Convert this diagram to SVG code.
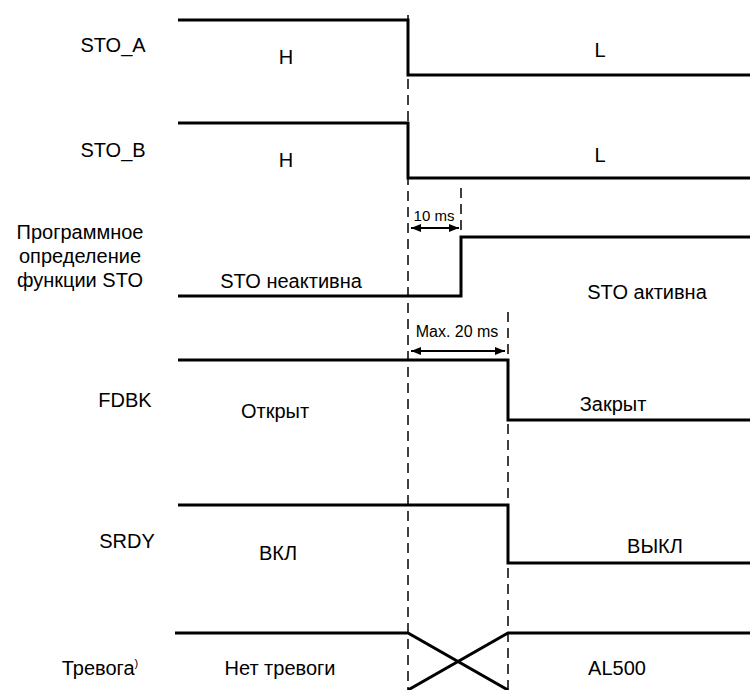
<svg xmlns="http://www.w3.org/2000/svg" width="750" height="690" viewBox="0 0 750 690">
<defs>
<marker id="ah" viewBox="0 0 10 8" refX="10" refY="4" markerWidth="11" markerHeight="8" orient="auto-start-reverse" markerUnits="userSpaceOnUse">
<path d="M0,0 L10,4 L0,8 Z" fill="#000"/>
</marker>
<style>
text{font-family:"Liberation Sans",Arial,sans-serif;font-size:20px;fill:#000}
.s{font-size:15px}
.m{font-size:16px}
.sig{fill:none;stroke:#000;stroke-width:3}
.d{fill:none;stroke:#000;stroke-width:1.5;stroke-dasharray:10,6}
.a{stroke:#000;stroke-width:2;fill:none}
</style>
</defs>
<rect width="750" height="690" fill="#fff"/>
<g id="connectors">
<line class="d" x1="408" y1="15" x2="408" y2="690"/>
<line class="d" x1="461" y1="188" x2="461" y2="237"/>
<line class="d" x1="508" y1="312" x2="508" y2="690"/>
<line class="a" x1="411" y1="228" x2="459" y2="228" marker-start="url(#ah)" marker-end="url(#ah)"/>
<line class="a" x1="411" y1="351" x2="505" y2="351" marker-start="url(#ah)" marker-end="url(#ah)"/>
</g>
<g id="sto_a">
<polyline class="sig" points="178,20 408,20 408,75 750,75"/>
<text x="113" y="52" text-anchor="middle">STO_A</text>
<text x="286" y="64" text-anchor="middle">H</text>
<text x="600" y="57" text-anchor="middle">L</text>
</g>
<g id="sto_b">
<polyline class="sig" points="178,123 408,123 408,178 750,178"/>
<text x="113" y="157" text-anchor="middle">STO_B</text>
<text x="286" y="167" text-anchor="middle">H</text>
<text x="600" y="162" text-anchor="middle">L</text>
</g>
<g id="sto_sw">
<polyline class="sig" points="178,296 461,296 461,237 750,237"/>
<text x="80" y="239" text-anchor="middle">Программное</text>
<text x="80" y="263" text-anchor="middle">определение</text>
<text x="80" y="287" text-anchor="middle">функции STO</text>
<text x="291" y="288" text-anchor="middle">STO неактивна</text>
<text x="647" y="299" text-anchor="middle">STO активна</text>
<text class="s" x="434" y="221" text-anchor="middle">10 ms</text>
<text class="m" x="457" y="337" text-anchor="middle">Max. 20 ms</text>
</g>
<g id="fdbk">
<polyline class="sig" points="178,360 508,360 508,420 750,420"/>
<text x="125" y="407" text-anchor="middle">FDBK</text>
<text x="275" y="418" text-anchor="middle">Открыт</text>
<text x="613" y="411" text-anchor="middle">Закрыт</text>
</g>
<g id="srdy">
<polyline class="sig" points="178,505 508,505 508,563 750,563"/>
<text x="127" y="548" text-anchor="middle">SRDY</text>
<text x="278" y="560" text-anchor="middle">ВКЛ</text>
<text x="655" y="553" text-anchor="middle">ВЫКЛ</text>
</g>
<g id="alarm">
<polyline class="sig" points="175,633 408,633 508,690"/>
<polyline class="sig" points="750,633 508,633 408,690"/>
<text x="100" y="675" text-anchor="middle">Тревога<tspan font-size="11" dy="-8">)</tspan></text>
<text x="280" y="675" text-anchor="middle">Нет тревоги</text>
<text x="617" y="675" text-anchor="middle">AL500</text>
</g>
</svg>
